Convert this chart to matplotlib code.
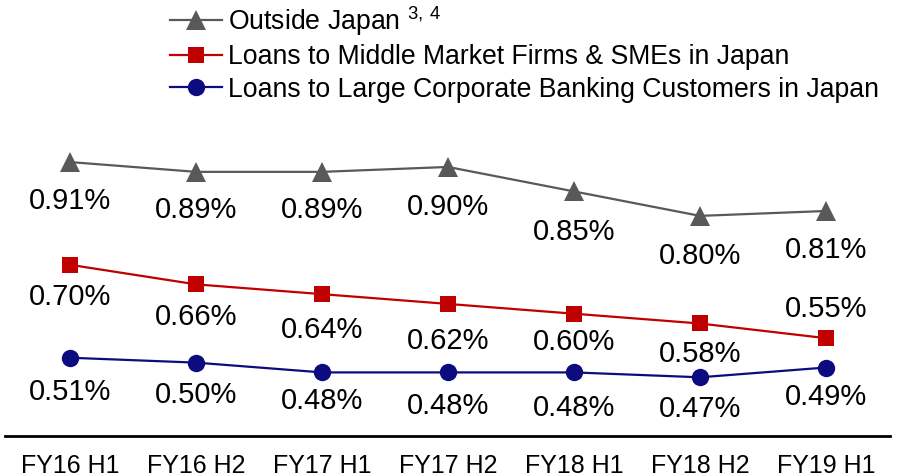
import matplotlib
matplotlib.use("Agg")
import matplotlib.pyplot as plt

plt.rcParams["font.family"] = ["Liberation Sans", "DejaVu Sans"]
plt.rcParams["mathtext.fontset"] = "custom"
plt.rcParams["mathtext.rm"] = "Liberation Sans"

PERIODS = ["FY16 H1", "FY16 H2", "FY17 H1", "FY17 H2", "FY18 H1", "FY18 H2", "FY19 H1"]
OUTSIDE_JAPAN = [0.91, 0.89, 0.89, 0.90, 0.85, 0.80, 0.81]
MIDDLE_MARKET = [0.70, 0.66, 0.64, 0.62, 0.60, 0.58, 0.55]
LARGE_CORP = [0.51, 0.50, 0.48, 0.48, 0.48, 0.47, 0.49]

# label offsets below each point, in pixels (negative = above)
DY_OUTSIDE = [39, 38, 38, 40, 41, 40, 39]
DY_MIDDLE = [32, 33, 36, 37, 28, 31, -29]
DY_LARGE = [34, 32, 29, 34, 36, 32, 29]

W, H = 900, 476
fig = plt.figure(figsize=(W / 100, H / 100), dpi=100)
ax = fig.add_axes([5 / W, (H - 436) / H, 885 / W, (436 - 120) / H])

series = [
    (OUTSIDE_JAPAN, DY_OUTSIDE, "#595959", "^", 15, r"Outside Japan $^{3,\,4}$"),
    (MIDDLE_MARKET, DY_MIDDLE, "#C00000", "s", 12, "Loans to Middle Market Firms & SMEs in Japan"),
    (LARGE_CORP, DY_LARGE, "#0C0C80", "o", 12.5, "Loans to Large Corporate Banking Customers in Japan"),
]

x = list(range(len(PERIODS)))
for vals, dys, color, marker, ms, label in series:
    ax.plot(x, vals, color=color, linewidth=1.6, marker=marker, markersize=ms,
            markeredgewidth=0, label=label, clip_on=False)
    for xi, v, dy in zip(x, vals, dys):
        ax.annotate(f"{v:.2f}%", (xi, v), xytext=(0, -dy), textcoords="offset pixels",
                    ha="center", va="center", fontsize=21, color="black")

ax.set_xlim(-0.516, 6.508)
ax.set_ylim(0.350, 0.996)
ax.set_yticks([])
ax.set_xticks(x)
ax.set_xticklabels(PERIODS, fontsize=18)
ax.tick_params(axis="x", length=0, pad=13)
for side in ["top", "left", "right"]:
    ax.spines[side].set_visible(False)
ax.spines["bottom"].set_linewidth(2)
ax.spines["bottom"].set_color("black")

fig.legend(loc="upper left", bbox_to_anchor=(170 / W, 1 - 4 / H), frameon=False,
           fontsize=19.2, handlelength=1.95, handletextpad=0.22, labelspacing=0.24,
           borderaxespad=0, borderpad=0)

fig.savefig("out.png", dpi=100)
